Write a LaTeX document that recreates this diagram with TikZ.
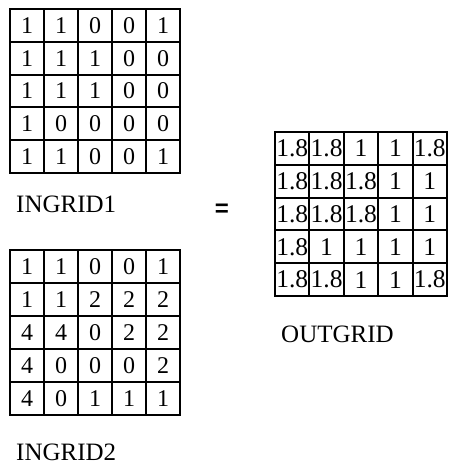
\documentclass[tikz,border=0pt]{standalone}
\usepackage{fontspec}
\setmainfont{Liberation Serif}
\newfontfamily\eqfont{Liberation Sans}
\begin{document}
\begin{tikzpicture}[x=1pt,y=-1pt,
  gridline/.style={line width=2pt},
  incell/.style={font=\fontsize{24}{26}\selectfont, inner sep=0pt},
  outcell/.style={font=\fontsize{25.5}{27}\selectfont, inner sep=0pt},
  caption/.style={font=\fontsize{25}{28}\selectfont, anchor=base west, inner sep=0pt},
  eqsign/.style={font=\eqfont\bfseries\fontsize{24}{26}\selectfont, inner sep=0pt}]
\useasboundingbox (0,0) rectangle (448,465);

% first input grid: 5x5 cells from (10,9) to (180,173)
\foreach \row [count=\r] in {{1,1,0,0,1},{1,1,1,0,0},{1,1,1,0,0},{1,0,0,0,0},{1,1,0,0,1}} {
  \foreach \v [count=\c] in \row {
    \node[incell] (a-\r-\c) at ({10+34*(\c-0.5)},{9+32.8*(\r-0.5)}) {\v};
  }
}
\foreach \i in {1,...,4} {
  \draw[gridline] ({10+34*\i},9) -- ({10+34*\i},173);
  \draw[gridline] (10,{9+32.8*\i}) -- (180,{9+32.8*\i});
}
\draw[gridline] (10,9) rectangle (180,173);
\node[caption] (lab1) at (16,212) {INGRID1};

% second input grid: from (10,250) to (180,415)
\foreach \row [count=\r] in {{1,1,0,0,1},{1,1,2,2,2},{4,4,0,2,2},{4,0,0,0,2},{4,0,1,1,1}} {
  \foreach \v [count=\c] in \row {
    \node[incell] (b-\r-\c) at ({10+34*(\c-0.5)},{250+33*(\r-0.5)}) {\v};
  }
}
\foreach \i in {1,...,4} {
  \draw[gridline] ({10+34*\i},250) -- ({10+34*\i},415);
  \draw[gridline] (10,{250+33*\i}) -- (180,{250+33*\i});
}
\draw[gridline] (10,250) rectangle (180,415);
\node[caption] (lab2) at (16,460) {INGRID2};

% equals sign
\node[eqsign] (eq) at (222,210) {=};

% output grid: from (275,132) to (447,296)
\foreach \row [count=\r] in {{1.8,1.8,1,1,1.8},{1.8,1.8,1.8,1,1},{1.8,1.8,1.8,1,1},{1.8,1,1,1,1},{1.8,1.8,1,1,1.8}} {
  \foreach \v [count=\c] in \row {
    \node[outcell] (o-\r-\c) at ({275+34.4*(\c-0.5)},{132+32.8*(\r-0.5)}) {\v};
  }
}
\foreach \i in {1,...,4} {
  \draw[gridline] ({275+34.4*\i},132) -- ({275+34.4*\i},296);
  \draw[gridline] (275,{132+32.8*\i}) -- (447,{132+32.8*\i});
}
\draw[gridline] (275,132) rectangle (447,296);
\node[caption] (lab3) at (281,342) {OUTGRID};
\end{tikzpicture}
\end{document}
